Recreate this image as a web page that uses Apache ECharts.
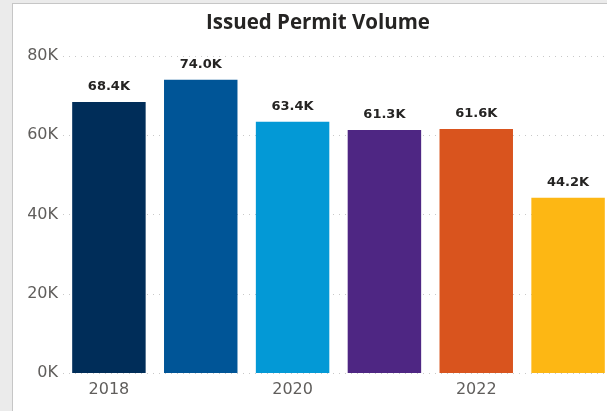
<!DOCTYPE html>
<html>
<head>
<meta charset="utf-8">
<script src="https://cdn.jsdelivr.net/npm/echarts@6/dist/echarts.min.js"></script>
<style>
  html, body { margin: 0; padding: 0; background: #ffffff; overflow: hidden; }
  #chart { width: 620px; height: 411px; }
</style>
</head>
<body>
<div id="chart"></div>
<script>
// Issued permits per year
const years = ['2018', '2019', '2020', '2021', '2022', '2023'];
const permits = [68400, 74000, 63400, 61300, 61600, 44200];
const barColors = ['#002d59', '#005597', '#0399d6', '#4e2683', '#d9541e', '#fdb714'];
const yTicks = [0, 20000, 40000, 60000, 80000];

const fmtK = v => (v / 1000).toFixed(0) + 'K';
const fmtLabel = v => (v / 1000).toFixed(1) + 'K';

const chart = echarts.init(document.getElementById('chart'), null, { renderer: 'canvas' });
chart.setOption({
  animation: false,
  backgroundColor: '#ffffff',
  graphic: [
    { type: 'rect', left: 0, top: 0, shape: { width: 12, height: 411 }, style: { fill: '#ebebeb' }, z: 100 },
    { type: 'rect', left: 0, top: 0, shape: { width: 620, height: 3 }, style: { fill: '#ebebeb' }, z: 100 },
    { type: 'rect', left: 12, top: 3, shape: { width: 1, height: 408 }, style: { fill: '#c6c6c6' }, z: 100 },
    { type: 'rect', left: 12, top: 3, shape: { width: 608, height: 1 }, style: { fill: '#c6c6c6' }, z: 100 }
  ],
  title: {
    text: 'Issued Permit Volume',
    left: 313,
    textAlign: 'center',
    top: 8,
    textStyle: { fontFamily: 'Open Sans', fontWeight: 'bold', fontSize: 20.5, color: '#252423' }
  },
  grid: { left: 63, top: 56, width: 551, bottom: 38, containLabel: false },
  xAxis: {
    type: 'category',
    data: years,
    axisLine: { show: false },
    axisTick: { show: false },
    axisLabel: { interval: 1, margin: 9, color: '#605e5c', fontFamily: 'DejaVu Sans', fontSize: 16 }
  },
  yAxis: {
    type: 'value',
    min: yTicks[0],
    max: yTicks[yTicks.length - 1],
    interval: yTicks[1] - yTicks[0],
    axisLine: { show: false },
    axisTick: { show: false },
    axisLabel: { formatter: fmtK, margin: 5, color: '#605e5c', fontFamily: 'DejaVu Sans', fontSize: 16 },
    splitLine: { show: true, lineStyle: { type: [1, 5], color: '#c8c8c8', width: 1 } }
  },
  series: [{
    type: 'bar',
    data: permits.map((v, i) => ({ value: v, itemStyle: { color: barColors[i] } })),
    barCategoryGap: '20%',
    label: {
      show: true,
      position: 'top',
      distance: 9,
      formatter: p => fmtLabel(p.value),
      fontFamily: 'DejaVu Sans',
      fontWeight: 'bold',
      fontSize: 13,
      color: '#252423'
    }
  }]
});
</script>
</body>
</html>
